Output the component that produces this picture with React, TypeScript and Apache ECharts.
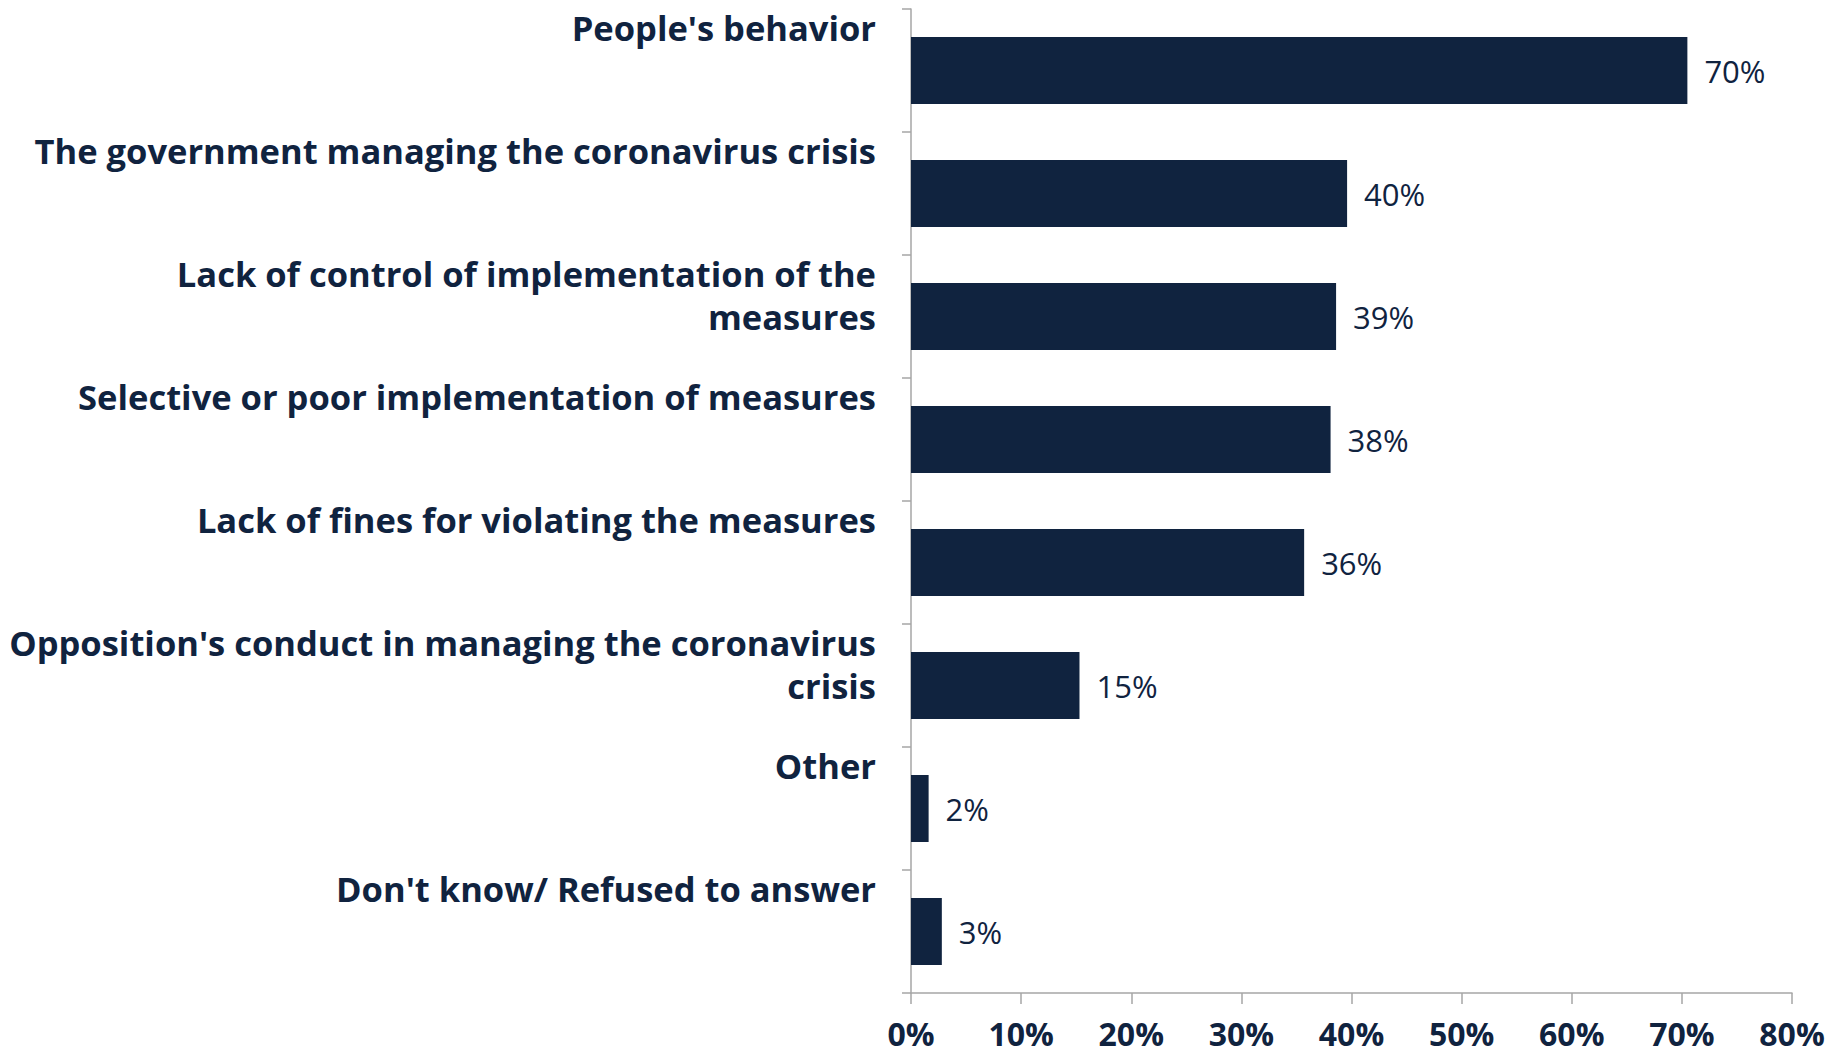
import React, { useEffect, useRef } from "react";
import * as echarts from "echarts";

const categories = [
  "People's behavior",
  "The government managing the coronavirus crisis",
  "Lack of control of implementation of the\nmeasures",
  "Selective or poor implementation of measures",
  "Lack of fines for violating the measures",
  "Opposition's conduct in managing the coronavirus\ncrisis",
  "Other",
  "Don't know/ Refused to answer",
];
const values = [70.5, 39.6, 38.6, 38.1, 35.7, 15.3, 1.6, 2.8];
const valueLabels = ["70%", "40%", "39%", "38%", "36%", "15%", "2%", "3%"];
const xTicks = [0, 10, 20, 30, 40, 50, 60, 70, 80];

const NAVY = "#10233f";
const FONT = "'Open Sans', sans-serif";

export default function App() {
  const ref = useRef<HTMLDivElement>(null);
  useEffect(() => {
    if (!ref.current) return;
    const chart = echarts.init(ref.current, null, { renderer: "svg" });
    chart.setOption({
      animation: false,
      grid: { left: 911, right: 51, top: 9, bottom: 64, containLabel: false },
      xAxis: {
        type: "value",
        min: 0,
        max: 80,
        interval: 10,
        splitLine: { show: false },
        axisLine: { show: true, lineStyle: { color: "#a6a6a6", width: 1.5 } },
        axisTick: { show: true, length: 11, lineStyle: { color: "#a6a6a6", width: 1.5 } },
        axisLabel: {
          margin: 25,
          formatter: (v: number) => (xTicks.includes(v) ? v + "%" : ""),
          color: NAVY,
          fontFamily: FONT,
          fontWeight: "bold",
          fontSize: 32,
          lineHeight: 30,
        },
      },
      yAxis: {
        type: "category",
        inverse: true,
        data: categories,
        axisLine: { show: true, lineStyle: { color: "#a6a6a6", width: 1.5 } },
        axisTick: { show: true, length: 9, inside: false, lineStyle: { color: "#a6a6a6", width: 1.5 } },
        axisLabel: {
          interval: 0,
          margin: 35,
          align: "right",
          verticalAlign: "middle",
          color: NAVY,
          fontFamily: FONT,
          fontWeight: "bold",
          fontSize: 34.5,
          lineHeight: 43,
          formatter: (v: string) => {
            const lines = v.split("\n");
            while (lines.length < 3) lines.push(" ");
            return lines.join("\n");
          },
        },
      },
      series: [
        {
          type: "bar",
          data: values,
          barWidth: 67,
          itemStyle: { color: NAVY },
          label: {
            show: true,
            position: "right",
            distance: 17,
            formatter: (p: any) => valueLabels[p.dataIndex],
            color: NAVY,
            fontFamily: FONT,
            fontSize: 31,
          },
        },
      ],
    });
    return () => chart.dispose();
  }, []);
  return (
    <div
      ref={ref}
      style={{ position: "absolute", left: 0, top: 0, width: 1843, height: 1057, background: "#fff" }}
    />
  );
}
